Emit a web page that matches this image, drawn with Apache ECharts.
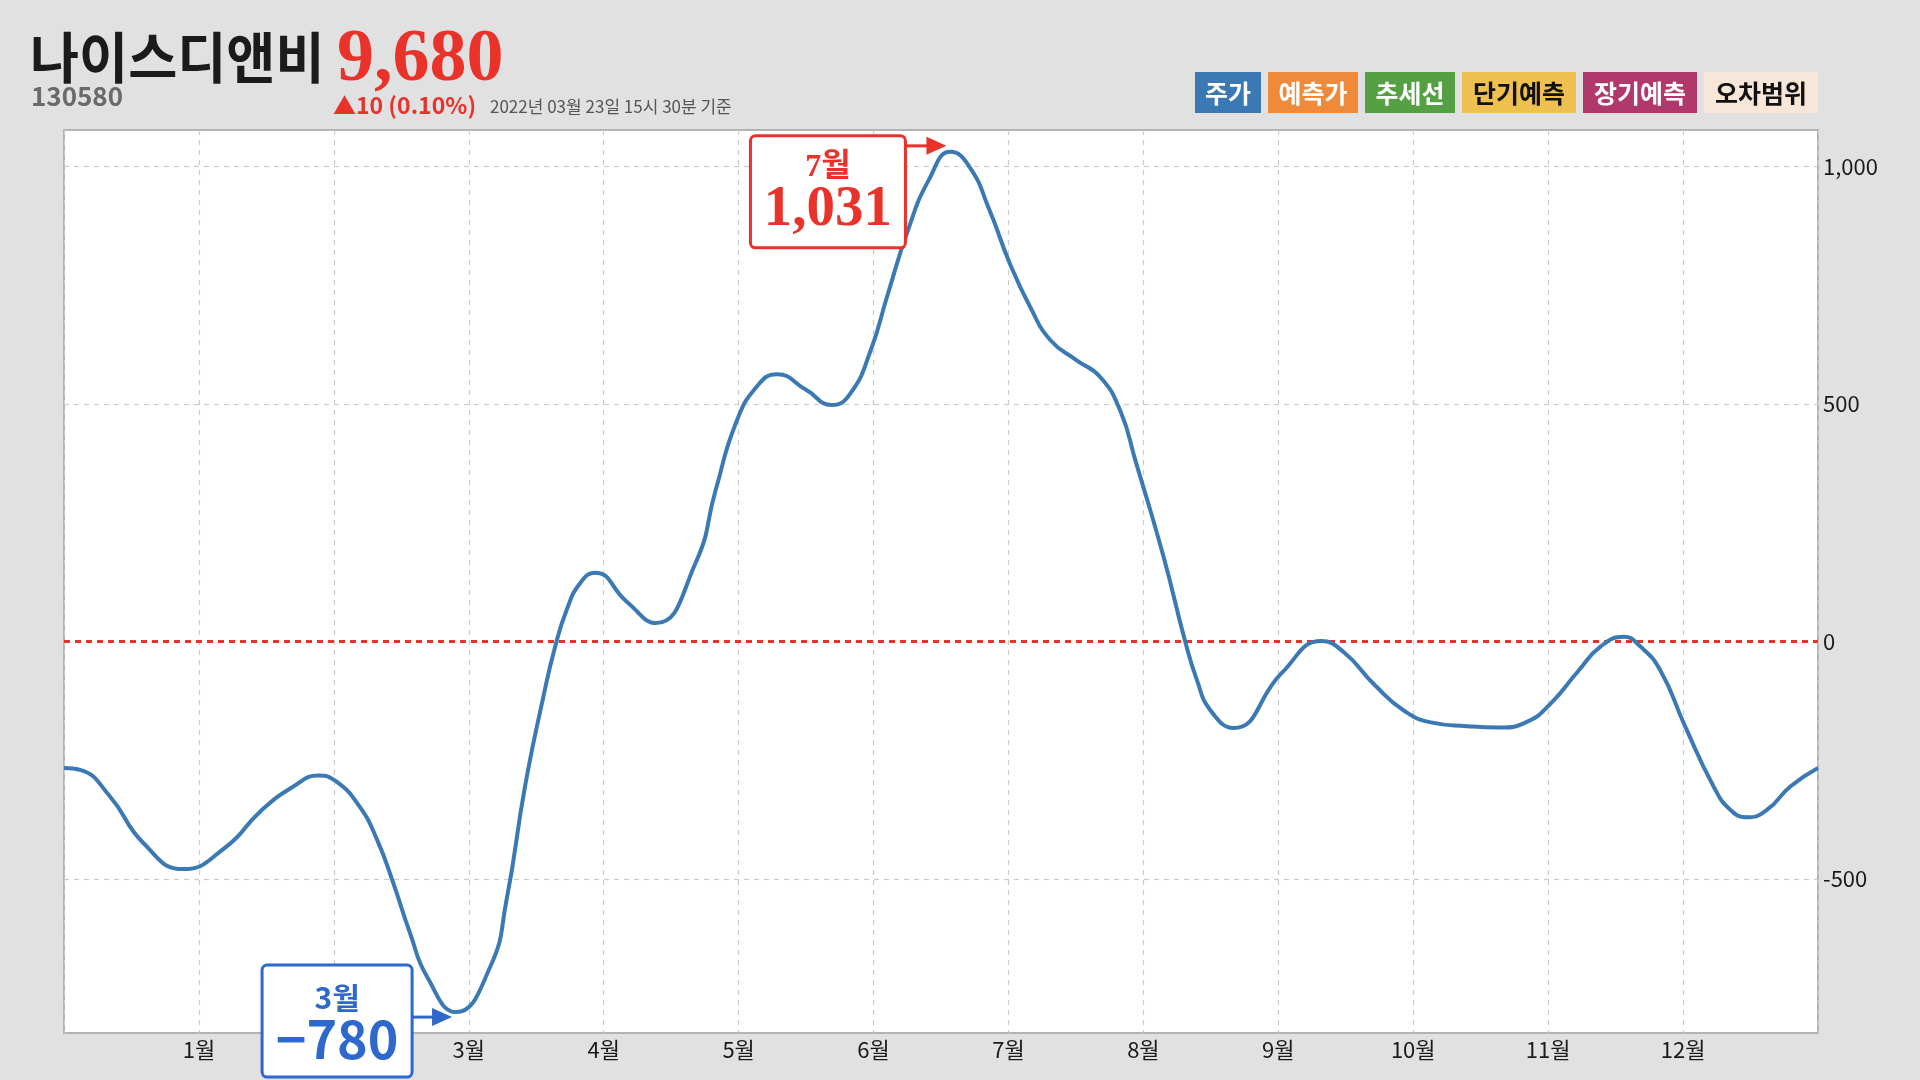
<!DOCTYPE html>
<html>
<head>
<meta charset="utf-8">
<title>나이스디앤비</title>
<script src="https://cdn.jsdelivr.net/npm/echarts@6/dist/echarts.min.js"></script>
<style>
  html, body { margin: 0; padding: 0; background: #e1e1e1; }
  #chart { width: 1920px; height: 1080px; }
</style>
</head>
<body>
<div id="chart"></div>
<script>
// 월 위치(1 = 1월) / 등락값
const monthPos = [
  0, 0.119, 0.341, 0.588, 0.884, 1.206, 1.453, 1.7, 1.885, 2.02,
  2.19, 2.32, 2.44, 2.565, 2.69, 2.906, 3.16, 3.28, 3.417, 3.553,
  3.64, 3.726, 3.825, 3.936, 4.171, 4.386, 4.68, 4.83, 4.98, 5.135,
  5.285, 5.5, 5.69, 5.83, 5.98, 6.1, 6.255, 6.41, 6.57, 6.71,
  6.86, 7.01, 7.16, 7.31, 7.5, 7.68, 7.83, 7.94, 8.149, 8.31,
  8.397, 8.495, 8.668, 9.026, 9.32, 9.48, 9.72, 9.93, 10.13, 10.4,
  10.64, 10.85, 11.02, 11.22, 11.39, 11.56, 11.682, 11.83, 12.016, 12.226,
  12.35, 12.475, 12.623, 12.795, 13
]
const priceDiff = [
  -266, -270, -326, -424, -479, -431, -358, -305, -282, -295,
  -347, -417, -508, -614, -705, -780, -684, -544, -305, -116,
  -11, 67, 123, 145, 84, 39, 165, 319, 460, 537,
  563, 530, 498, 523, 614, 726, 866, 972, 1031, 1000,
  908, 796, 705, 635, 593, 557, 485, 382, 179, 0,
  -81, -144, -182, -66, 1, -21, -93, -145, -170, -178,
  -181, -168, -130, -63, -10, 10, -10, -60, -179, -305,
  -354, -370, -354, -305, -266
]
const monthLabels = ['1월', '2월', '3월', '4월', '5월', '6월', '7월', '8월', '9월', '10월', '11월', '12월']
const yTicks = [-500, 0, 500, 1000]

const stockName = '나이스디앤비'
const stockCode = '130580'
const stockPrice = '9,680'
const stockChange = '▲10 (0.10%)'
const baseTime = '2022년 03월 23일 15시 30분 기준'

const legendNames = ['주가', '예측가', '추세선', '단기예측', '장기예측', '오차범위']
const legendColors = ['#3a79b3', '#ef8a3a', '#55a043', '#edc04f', '#b0386a', '#f8e6d8']
const legendTextColors = ['#fff', '#fff', '#fff', '#111', '#fff', '#111']

const RED = '#e8322a'
const BLUE = '#2f68cc'
const KR = '"Noto Sans CJK KR", sans-serif'
const SERIF = '"Liberation Serif", "Noto Sans CJK KR", serif'

const chart = echarts.init(document.getElementById('chart'))

// 상단 제목/범례
function headerGraphics() {
  const items = [
    {
      type: 'text', x: 30, y: 57, scaleX: 0.97,
      style: { text: stockName, fill: '#1b1b1b', fontSize: 55, fontWeight: 'bold', fontFamily: KR, verticalAlign: 'middle', textVerticalAlign: 'middle' }
    },
    {
      type: 'text', x: 337, y: 61,
      style: { text: stockPrice, fill: RED, fontSize: 74, fontWeight: 'bold', fontFamily: SERIF, verticalAlign: 'middle', textVerticalAlign: 'middle' }
    },
    {
      type: 'text', x: 31, y: 96,
      style: { text: stockCode, fill: '#6a6a6a', fontSize: 26, fontWeight: 'bold', fontFamily: KR, verticalAlign: 'middle', textVerticalAlign: 'middle' }
    },
    {
      type: 'text', x: 333, y: 105,
      style: { text: stockChange, fill: RED, fontSize: 23, fontWeight: 'bold', fontFamily: KR, verticalAlign: 'middle', textVerticalAlign: 'middle' }
    },
    {
      type: 'text', x: 490, y: 107,
      style: { text: baseTime, fill: '#555', fontSize: 17, fontFamily: KR, verticalAlign: 'middle', textVerticalAlign: 'middle' }
    }
  ]
  // 범례 박스 (오른쪽 정렬)
  let right = 1818
  for (let i = legendNames.length - 1; i >= 0; i--) {
    const w = 18 + legendNames[i].length * 24
    const x = right - w
    items.push({
      type: 'rect', shape: { x: x, y: 72, width: w, height: 41 },
      style: { fill: legendColors[i] }
    })
    items.push({
      type: 'text', x: x + w / 2, y: 93,
      style: {
        text: legendNames[i], fill: legendTextColors[i], fontSize: 25, fontWeight: 'bold', fontFamily: KR,
        align: 'center', verticalAlign: 'middle', textAlign: 'center', textVerticalAlign: 'middle'
      }
    })
    right = x - 7
  }
  return items
}

chart.setOption({
  backgroundColor: '#e1e1e1',
  animation: false,
  grid: {
    left: 64,
    right: 102,
    top: 130,
    bottom: 47,
    show: true,
    backgroundColor: '#fff',
    borderColor: '#b3b3b3',
    borderWidth: 2
  },
  xAxis: {
    type: 'value',
    min: 0,
    max: 13,
    interval: 1,
    axisLine: { show: false },
    axisTick: { show: false },
    axisLabel: {
      fontSize: 22,
      color: '#1a1a1a',
      fontFamily: KR,
      margin: 6,
      formatter: v => (v >= 1 && v <= 12 ? monthLabels[v - 1] : '')
    },
    splitLine: {
      show: true,
      lineStyle: { color: '#cbcbcb', width: 1.2, type: [5, 5] }
    }
  },
  yAxis: {
    type: 'value',
    position: 'right',
    min: -824,
    max: 1077,
    axisLine: { show: false },
    axisTick: { show: false },
    splitLine: { show: false },
    axisLabel: {
      customValues: yTicks,
      fontSize: 22,
      color: '#1a1a1a',
      fontFamily: KR,
      margin: 5,
      formatter: v => v.toLocaleString('en-US')
    }
  },
  series: [
    {
      // 가로 보조선
      type: 'line',
      data: [],
      silent: true,
      markLine: {
        silent: true,
        symbol: 'none',
        label: { show: false },
        data: yTicks.map(v => ({
          yAxis: v,
          lineStyle: v === 0
            ? { color: RED, width: 3, type: [6, 5] }
            : { color: '#cbcbcb', width: 1.2, type: [5, 5] }
        }))
      }
    },
    {
      name: '주가',
      type: 'line',
      z: 10,
      smooth: 0.5,
      showSymbol: false,
      lineStyle: { color: '#3a79b3', width: 4 },
      data: monthPos.map((x, i) => [x, priceDiff[i]])
    }
  ],
  graphic: headerGraphics()
})

// 최고/최저 표시 상자
function callout(idx, color, dx, dy, w, arrowDy, numFont, monthSize, numSize) {
  const p = chart.convertToPixel({ gridIndex: 0 }, [monthPos[idx], priceDiff[idx]])
  const boxRight = p[0] + dx
  const top = p[1] + dy
  const h = 112
  const cx = boxRight - w / 2
  const ay = p[1] + arrowDy
  const tip = p[0] - 4
  const month = Math.round(monthPos[idx]) + '월'
  const val = priceDiff[idx].toLocaleString('en-US').replace('-', '−')
  return [
    {
      type: 'rect', z: 100,
      shape: { x: boxRight - w, y: top, width: w, height: h, r: 5 },
      style: { fill: '#fff', stroke: color, lineWidth: 3 }
    },
    {
      type: 'text', z: 101, x: cx, y: top + 32,
      style: {
        text: month, fill: color, fontSize: monthSize, fontWeight: 'bold', fontFamily: numFont,
        align: 'center', verticalAlign: 'middle', textAlign: 'center', textVerticalAlign: 'middle'
      }
    },
    {
      type: 'text', z: 101, x: cx, y: top + 74,
      style: {
        text: val, fill: color, fontSize: numSize, fontWeight: 'bold', fontFamily: numFont,
        align: 'center', verticalAlign: 'middle', textAlign: 'center', textVerticalAlign: 'middle'
      }
    },
    {
      type: 'line', z: 100,
      shape: { x1: boxRight, y1: ay, x2: tip - 18, y2: ay },
      style: { stroke: color, lineWidth: 3 }
    },
    {
      type: 'polygon', z: 100,
      shape: { points: [[tip, ay], [tip - 20, ay - 9], [tip - 20, ay + 9]] },
      style: { fill: color }
    }
  ]
}

const maxIdx = priceDiff.indexOf(Math.max(...priceDiff))
const minIdx = priceDiff.indexOf(Math.min(...priceDiff))

chart.setOption({
  graphic: headerGraphics()
    .concat(callout(maxIdx, RED, -45, -16, 155, -6, SERIF, 32, 57))
    .concat(callout(minIdx, BLUE, -44, -47, 150, 5, KR, 30, 52))
})
</script>
</body>
</html>
